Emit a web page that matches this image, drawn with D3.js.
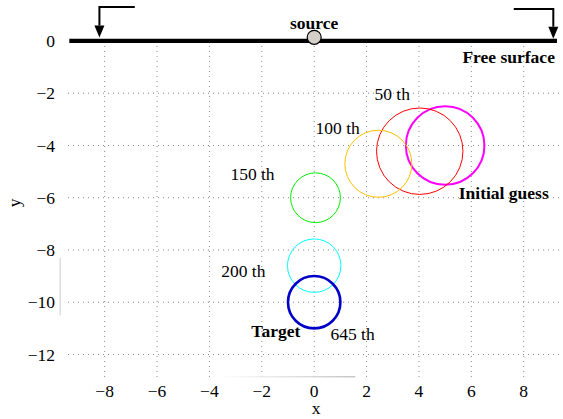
<!DOCTYPE html>
<html><head><meta charset="utf-8">
<script src="https://cdn.jsdelivr.net/npm/d3@7"></script>
<style>
html,body{margin:0;padding:0;background:#fff;}
svg{display:block;}
text{font-family:"Liberation Serif","Times New Roman",serif;}
</style></head>
<body>
<script>
// ---- data ----
const circleNames   = ["Initial guess", "50 th", "100 th", "150 th", "200 th", "Target"];
const circleCX      = [5.0, 4.03, 2.45, 0.05, 0.0, 0.0];
const circleCY      = [-4.0, -4.22, -4.7, -6.0, -8.6, -10.0];
const circleR       = [1.5, 1.65, 1.28, 0.95, 1.02, 1.0];
const circleColors  = ["#ff00ff", "#ff0000", "#ffc000", "#00ee00", "#00ffff", "#0000c8"];
const circleWidths  = [2, 1, 1, 1, 1, 2.6];
const xTicks = [-8, -6, -4, -2, 0, 2, 4, 6, 8];
const yTicks = [0, -2, -4, -6, -8, -10, -12];
// labels: text, x, y (data coords), bold
const labelText = ["50 th", "100 th", "150 th", "200 th", "645 th", "Initial guess", "Target", "Free surface", "source"];
const labelX    = [2.3, 0.05, -3.2, -3.55, 0.62, 5.52, -2.4, 5.66, 0];
const labelY    = [-2.26, -3.56, -5.31, -9.03, -11.45, -6.05, -11.32, -0.86, 0.46];
const labelBold = [false, false, false, false, false, true, true, true, true];
const labelAnchor = ["start","start","start","start","start","start","start","start","middle"];
const sourceXY = [0, 0.14];
const arrowLeft  = {x: -8.2, xEnd: -6.85, yTop: 1.3, yTip: 0.13};
const arrowRight = {x: 9.13, xEnd: 7.62, yTop: 1.22, yTip: 0.08};

const W = 563, H = 419;
const svg = d3.select("body").append("svg").attr("width", W).attr("height", H);
const x = d3.scaleLinear().domain([-9.4, 9.5]).range([68, 563]);
const y = d3.scaleLinear().domain([1.3, -12.9]).range([7, 378]);

const defs = svg.append("defs");
const grad = defs.append("linearGradient").attr("id","fade");
grad.append("stop").attr("offset","0%").attr("stop-color","#ffffff");
grad.append("stop").attr("offset","100%").attr("stop-color","#bbbbbb");

// grid
const g = svg.append("g");
g.selectAll("line.vg").data(xTicks).join("line").attr("class","vg")
  .attr("x1", d=>x(d)).attr("x2", d=>x(d)).attr("y1", y(0)).attr("y2", y(-12.9))
  .attr("stroke","#888").attr("stroke-width",1).attr("stroke-dasharray","1,4");
g.selectAll("line.hg").data(yTicks.filter(d=>d!==0)).join("line").attr("class","hg")
  .attr("x1", x(-9.4)).attr("x2", x(9.5)).attr("y1", d=>y(d)).attr("y2", d=>y(d))
  .attr("stroke","#888").attr("stroke-width",1).attr("stroke-dasharray","1,4");

// faint artifacts
svg.append("rect").attr("x", x(-3.6)).attr("y", y(-12.83)).attr("width", x(1.57)-x(-3.6)).attr("height",1.2).attr("fill","url(#fade)");
svg.append("line").attr("x1", x(-9.7)).attr("x2", x(-9.7)).attr("y1", y(-8.3)).attr("y2", y(-10.5))
  .attr("stroke","#ccc").attr("stroke-width",1);

// axis labels
const fs = 17.5;
svg.selectAll("text.xt").data(xTicks).join("text").attr("class","xt")
  .attr("x", d=>x(d)).attr("y", 397).attr("text-anchor","middle").attr("font-size",fs)
  .text(d=> d<0 ? "\u2212"+Math.abs(d) : d);
svg.selectAll("text.yt").data(yTicks).join("text").attr("class","yt")
  .attr("x", 55).attr("y", d=>y(d)).attr("dy","0.35em").attr("text-anchor","end").attr("font-size",fs)
  .text(d=> d<0 ? "\u2212"+Math.abs(d) : d);
svg.append("text").attr("x", x(0)+2).attr("y", 414).attr("text-anchor","middle").attr("font-size",fs).text("x");
svg.append("text").attr("transform",`translate(20,${y(-6.2)}) rotate(-90)`).attr("text-anchor","middle").attr("font-size",fs).text("y");

// free surface
svg.append("line").attr("x1", x(-9.35)).attr("x2", x(9.27)).attr("y1", y(0)).attr("y2", y(0))
  .attr("stroke","#000").attr("stroke-width",4.2);

// arrows
[arrowLeft, arrowRight].forEach(a=>{
  svg.append("path").attr("d", `M${x(a.xEnd)},${y(a.yTop)} L${x(a.x)},${y(a.yTop)} L${x(a.x)},${y(a.yTip)-12}`)
    .attr("fill","none").attr("stroke","#000").attr("stroke-width",2);
  svg.append("path").attr("d", `M${x(a.x)-5},${y(a.yTip)-12} L${x(a.x)+5},${y(a.yTip)-12} L${x(a.x)},${y(a.yTip)} Z`).attr("fill","#000");
});

// circles
const circData = circleNames.map((n,i)=>({n, cx:circleCX[i], cy:circleCY[i], r:circleR[i], c:circleColors[i], w:circleWidths[i]}));
svg.selectAll("circle.est").data(circData).join("circle").attr("class","est")
  .attr("cx", d=>x(d.cx)).attr("cy", d=>y(d.cy)).attr("r", d=>x(d.r)-x(0))
  .attr("fill","none").attr("stroke", d=>d.c).attr("stroke-width", d=>d.w);

// source
svg.append("circle").attr("cx", x(sourceXY[0])).attr("cy", y(sourceXY[1])).attr("r", 7)
  .attr("fill","#d4d0c8").attr("stroke","#000").attr("stroke-width",1.2);

// labels
svg.selectAll("text.lab").data(labelText).join("text").attr("class","lab")
  .attr("x", (d,i)=>x(labelX[i])).attr("y", (d,i)=>y(labelY[i]))
  .attr("text-anchor", (d,i)=>labelAnchor[i])
  .attr("font-size", fs).attr("font-weight", (d,i)=>labelBold[i]?"bold":"normal")
  .text(d=>d);
</script>
</body></html>
